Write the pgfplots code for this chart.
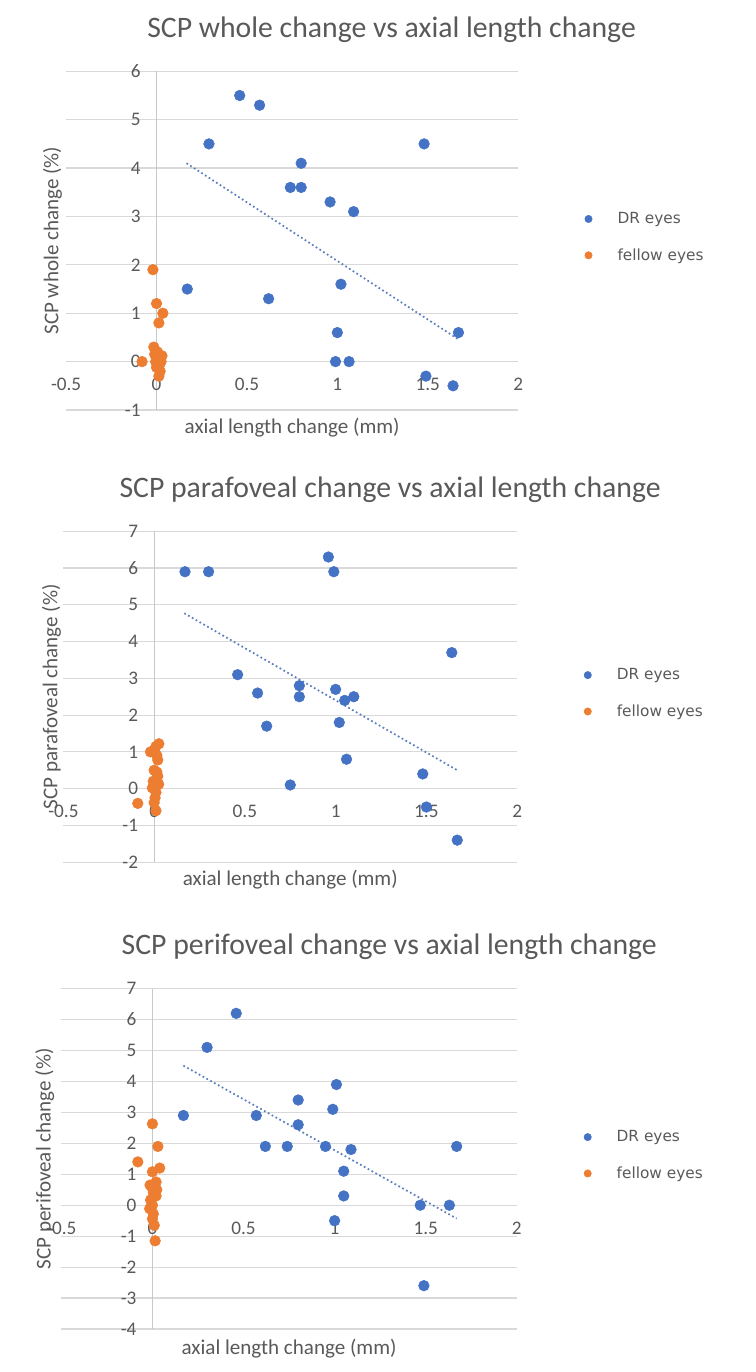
\documentclass[border=0pt]{standalone}
\usepackage{fontspec}
\setmainfont{Carlito}
\newfontfamily\legendfont{DejaVu Sans}
\usepackage{pgfplots}
\pgfplotsset{compat=1.18}
\definecolor{drblue}{HTML}{4472C4}
\definecolor{feorange}{HTML}{ED7D31}
\definecolor{txtgray}{HTML}{595959}
\definecolor{gridgray}{HTML}{D9D9D9}
\definecolor{axgray}{HTML}{C8C8C8}
\definecolor{trend}{HTML}{5B7FBE}
\pgfplotsset{
  excel/.style={
    scale only axis,
    clip=false,
    axis x line=middle, axis y line=middle,
    axis line style={-, draw=gridgray, line width=0.9pt},
    y axis line style={draw=axgray},
    xmin=-0.5, xmax=2,
    xtick={-0.5,0,0.5,1,1.5,2},
    ymajorgrids, grid style={draw=gridgray, line width=0.9pt},
    major tick length=0pt,
    hide obscured x ticks=false, hide obscured y ticks=false,
    /pgf/number format/assume math mode=true,
    tick label style={font=\fontsize{14.4}{16}\selectfont, text=txtgray},
    xticklabel style={anchor=north, yshift=-9pt},
    yticklabel style={anchor=east, xshift=-8.5pt},
    label style={font=\fontsize{15.8}{18}\selectfont, text=txtgray},
    title style={font=\fontsize{22.3}{26}\selectfont, text=txtgray, at={([yshift=25.5pt]rel axis cs:0.72,1)}, anchor=center},
    legend style={at={(rel axis cs:1.147,0.51)}, anchor=west, draw=none, fill=none, inner sep=0pt,
      font=\legendfont\fontsize{11.5}{13}\selectfont, text=txtgray, row sep=13.2pt, column sep=17pt},
    legend cell align=left,
    legend image code/.code={\draw[##1,mark size=2.75pt] plot coordinates {(0pt,0pt)};},
  },
  dr/.style={only marks, mark=*, color=drblue, mark size=4pt},
  fe/.style={only marks, mark=*, color=feorange, mark size=4pt},
  tr/.style={trend, line width=1.3pt, dash pattern=on 1.3pt off 2pt, forget plot},
}
\begin{document}
\begin{tikzpicture}
\path[use as bounding box] (0,0) rectangle (567pt,1029pt);

% ---------- Panel 1 ----------
\begin{axis}[excel,
  at={(49.6pt,721.5pt)}, anchor=south west,
  width=339pt, height=254pt,
  ymin=-1, ymax=6, ytick={-1,0,1,2,3,4,5,6},
  title={SCP whole change vs axial length change},
  xlabel={axial length change (mm)},
  ylabel={SCP whole change (\%)},
  xlabel style={at={([yshift=-13.5pt]rel axis cs:0.5,0)}, anchor=center},
  ylabel style={at={([xshift=-10.3pt]rel axis cs:0,0.5)}, rotate=90, anchor=center},
]
\addplot[dr] coordinates {
(0.46,5.5) (0.57,5.3) (0.29,4.5) (1.48,4.5) (0.80,4.1) (0.74,3.6) (0.80,3.6)
(0.96,3.3) (1.09,3.1) (0.17,1.5) (0.62,1.3) (1.02,1.6) (1.00,0.6) (1.67,0.6)
(0.99,0) (1.065,0) (1.49,-0.3) (1.64,-0.5)};
\addlegendentry{DR eyes}
\addplot[fe] coordinates {
(-0.02,1.9) (0,1.2) (0.035,1.0) (0.013,0.8) (-0.015,0.3) (-0.08,0) (0.013,-0.3)
(0.005,0.2) (0.02,0.1) (0.01,0.05) (-0.005,0.0) (0.025,0.0) (0.015,-0.08)
(0,-0.12) (0.03,0.12) (-0.01,0.15) (0.02,-0.2)};
\addlegendentry{fellow eyes}
\addplot[tr] coordinates {(0.166,4.10) (1.67,0.46)};
\end{axis}

% ---------- Panel 2 ----------
\begin{axis}[excel,
  at={(47.55pt,382.35pt)}, anchor=south west,
  width=340.3pt, height=248.2pt,
  ymin=-2, ymax=7, ytick={-2,-1,0,1,2,3,4,5,6,7},
  title={SCP parafoveal change vs axial length change},
  xlabel={axial length change (mm)},
  ylabel={SCP parafoveal change (\%)},
  xlabel style={at={([yshift=-13.1pt]rel axis cs:0.5,0)}, anchor=center},
  ylabel style={at={([xshift=-8.9pt]rel axis cs:0,0.5)}, rotate=90, anchor=center},
]
\addplot[dr] coordinates {
(0.17,5.9) (0.30,5.9) (0.96,6.3) (0.99,5.9) (1.64,3.7) (0.46,3.1) (0.57,2.6)
(0.80,2.8) (0.80,2.5) (1.00,2.7) (1.05,2.4) (1.10,2.5) (1.02,1.8) (0.62,1.7)
(1.06,0.8) (0.75,0.1) (1.48,0.4) (1.50,-0.5) (1.67,-1.4)};
\addlegendentry{DR eyes}
\addplot[fe] coordinates {
(-0.09,-0.4) (0.026,1.22) (0.01,1.15) (-0.02,1.0) (0.0,1.05) (0.015,0.9)
(0.02,0.78) (0,0.5) (0.015,0.45) (0.02,0.34) (-0.005,0.2) (0.025,0.12)
(-0.01,0.02) (0.01,-0.1) (0.005,-0.25) (0,-0.38) (0.01,-0.6)};
\addlegendentry{fellow eyes}
\addplot[tr] coordinates {(0.166,4.77) (1.667,0.51)};
\end{axis}

% ---------- Panel 3 ----------
\begin{axis}[excel,
  at={(46pt,32.25pt)}, anchor=south west,
  width=341.6pt, height=255.3pt,
  ymin=-4, ymax=7, ytick={-4,-3,-2,-1,0,1,2,3,4,5,6,7},
  title={SCP perifoveal change vs axial length change},
  xlabel={axial length change (mm)},
  ylabel={SCP perifoveal change (\%)},
  xlabel style={at={([yshift=-14.6pt]rel axis cs:0.5,0)}, anchor=center},
  ylabel style={at={([xshift=-12.4pt]rel axis cs:0,0.5)}, rotate=90, anchor=center},
]
\addplot[dr] coordinates {
(0.46,6.2) (0.30,5.1) (0.17,2.9) (0.57,2.9) (1.01,3.9) (0.80,3.4) (0.99,3.1)
(0.80,2.6) (0.62,1.9) (0.74,1.9) (0.95,1.9) (1.09,1.8) (1.67,1.9) (1.05,1.1)
(1.05,0.3) (1.00,-0.5) (1.47,0) (1.63,0) (1.49,-2.6)};
\addlegendentry{DR eyes}
\addplot[fe] coordinates {
(0,2.63) (0.03,1.9) (-0.08,1.4) (0.04,1.2) (0,1.08) (0.02,0.75) (-0.013,0.65)
(0.024,0.5) (0.005,0.4) (-0.01,0.17) (0,0) (-0.015,-0.11) (0.005,-0.28)
(0,-0.44) (0.01,-0.65) (0.015,-1.15) (0.02,0.3) (-0.005,0.6)};
\addlegendentry{fellow eyes}
\addplot[tr] coordinates {(0.17,4.51) (1.67,-0.43)};
\end{axis}
\end{tikzpicture}
\end{document}
